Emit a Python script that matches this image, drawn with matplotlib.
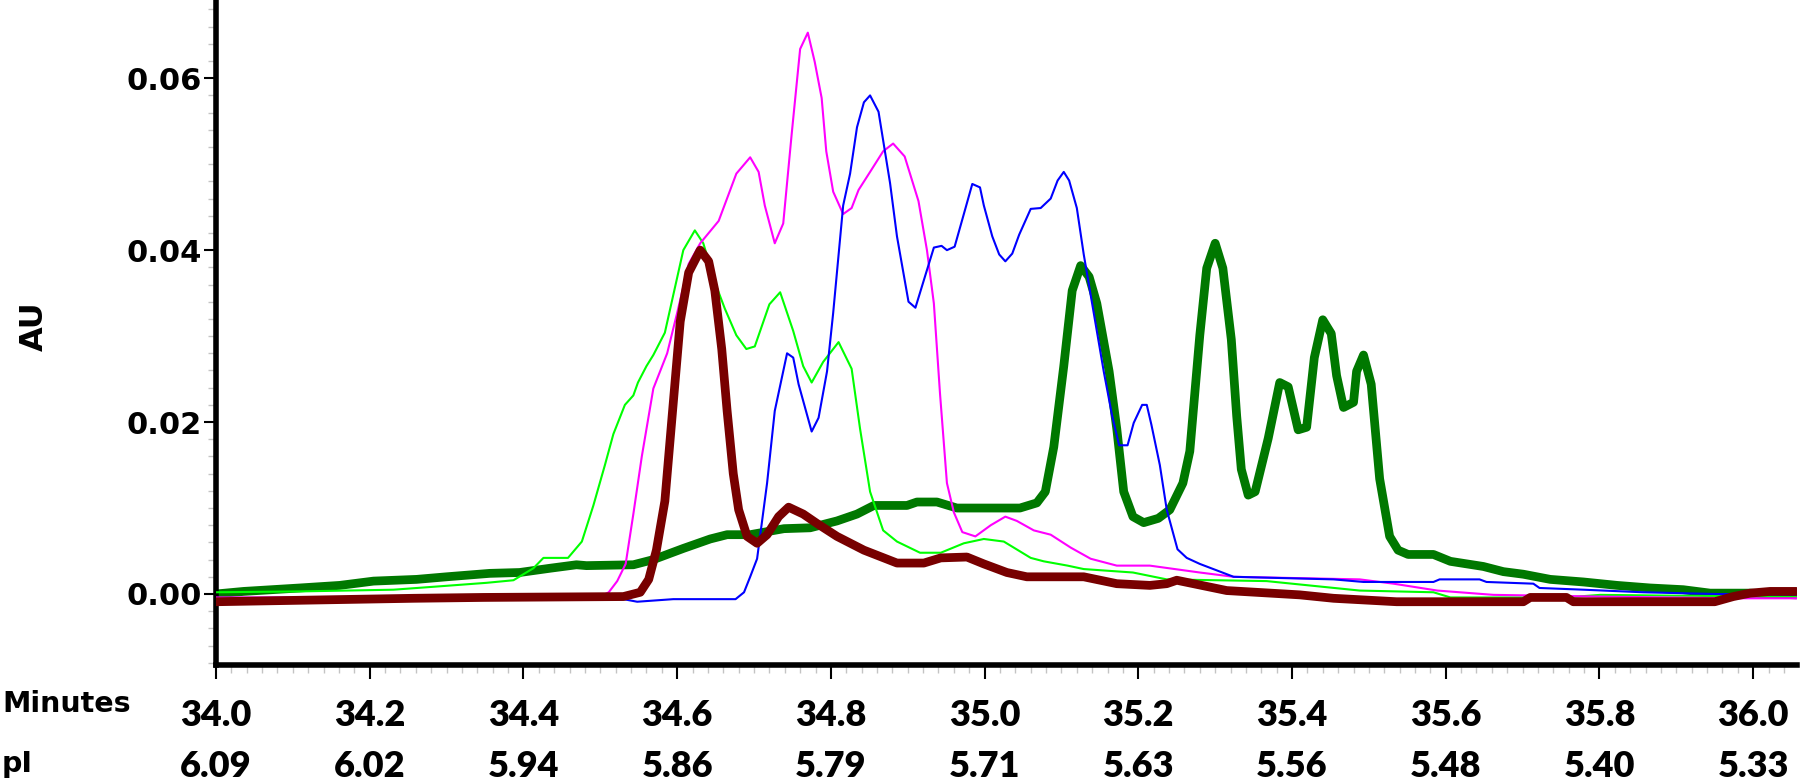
import matplotlib
matplotlib.use('Agg')
import matplotlib.pyplot as plt
from matplotlib.transforms import blended_transform_factory
from matplotlib.ticker import MultipleLocator
import numpy as np

# axis tick labels
minute_ticks = [34.0, 34.2, 34.4, 34.6, 34.8, 35.0, 35.2, 35.4, 35.6, 35.8, 36.0]
pi_labels = ['6.09', '6.02', '5.94', '5.86', '5.79', '5.71', '5.63', '5.56', '5.48', '5.40', '5.33']
au_ticks = [0.00, 0.02, 0.04, 0.06]

# maroon trace (thick)
maroon_t = [34.0, 34.257, 34.348, 34.530, 34.552, 34.563, 34.573, 34.584, 34.595, 34.604,
            34.615, 34.630, 34.641, 34.649, 34.658, 34.665, 34.673, 34.680, 34.691, 34.704,
            34.717, 34.732, 34.745, 34.764, 34.782, 34.808, 34.843, 34.886, 34.921, 34.943,
            34.977, 34.999, 35.029, 35.055, 35.129, 35.172, 35.215, 35.237, 35.250, 35.315,
            35.410, 35.454, 35.536, 35.701, 35.710, 35.757, 35.766, 35.950, 35.974, 35.996,
            36.022, 36.056]
maroon_au = [-0.0009, -0.0005, -0.0004, -0.0003, 0.0002, 0.0017, 0.0051, 0.0108, 0.0223, 0.0317,
             0.0374, 0.0400, 0.0387, 0.0353, 0.0285, 0.0213, 0.0140, 0.0098, 0.0067, 0.0059,
             0.0069, 0.0090, 0.0101, 0.0093, 0.0082, 0.0067, 0.0051, 0.0036, 0.0036, 0.0042,
             0.0043, 0.0035, 0.0025, 0.0020, 0.0020, 0.0012, 0.0010, 0.0012, 0.0016, 0.0004,
             -0.0001, -0.0005, -0.0009, -0.0009, -0.0004, -0.0004, -0.0009, -0.0009, -0.0003, 0.0001,
             0.0003, 0.0003]

# dark green trace (thick)
dkgreen_t = [34.0, 34.036, 34.109, 34.161, 34.205, 34.261, 34.300, 34.356, 34.395, 34.435,
             34.469, 34.482, 34.543, 34.569, 34.608, 34.643, 34.665, 34.695, 34.739, 34.773,
             34.808, 34.834, 34.856, 34.899, 34.912, 34.938, 34.964, 35.046, 35.068, 35.079,
             35.090, 35.103, 35.114, 35.125, 35.136, 35.146, 35.162, 35.172, 35.181, 35.193,
             35.207, 35.226, 35.241, 35.258, 35.267, 35.280, 35.289, 35.300, 35.310, 35.321,
             35.328, 35.334, 35.343, 35.352, 35.369, 35.384, 35.395, 35.408, 35.419, 35.429,
             35.440, 35.451, 35.458, 35.467, 35.480, 35.484, 35.493, 35.503, 35.514, 35.527,
             35.538, 35.551, 35.584, 35.606, 35.649, 35.675, 35.701, 35.736, 35.779, 35.823,
             35.866, 35.909, 35.944, 35.996, 36.056]
dkgreen_au = [0.0000, 0.0003, 0.0007, 0.0010, 0.0015, 0.0017, 0.0020, 0.0024, 0.0025, 0.0030,
              0.0034, 0.0033, 0.0034, 0.0040, 0.0053, 0.0064, 0.0069, 0.0069, 0.0076, 0.0077,
              0.0085, 0.0093, 0.0103, 0.0103, 0.0107, 0.0107, 0.0100, 0.0100, 0.0106, 0.0119,
              0.0171, 0.0265, 0.0353, 0.0382, 0.0369, 0.0338, 0.0259, 0.0192, 0.0119, 0.0090,
              0.0083, 0.0088, 0.0098, 0.0129, 0.0166, 0.0301, 0.0379, 0.0408, 0.0379, 0.0296,
              0.0207, 0.0145, 0.0115, 0.0119, 0.0181, 0.0246, 0.0241, 0.0191, 0.0194, 0.0275,
              0.0319, 0.0303, 0.0254, 0.0217, 0.0223, 0.0259, 0.0278, 0.0244, 0.0134, 0.0067,
              0.0051, 0.0046, 0.0046, 0.0038, 0.0032, 0.0026, 0.0023, 0.0017, 0.0014, 0.0010,
              0.0007, 0.0005, 0.0001, 0.0001, -0.0001]

# light green trace
lime_t = [34.0, 34.109, 34.231, 34.292, 34.352, 34.387, 34.413, 34.426, 34.458, 34.476,
          34.491, 34.506, 34.517, 34.532, 34.543, 34.549, 34.560, 34.569, 34.584, 34.595,
          34.608, 34.623, 34.634, 34.651, 34.662, 34.677, 34.690, 34.701, 34.720, 34.734,
          34.751, 34.764, 34.775, 34.790, 34.810, 34.827, 34.838, 34.851, 34.868, 34.886,
          34.916, 34.943, 34.973, 34.999, 35.025, 35.060, 35.077, 35.108, 35.129, 35.193,
          35.237, 35.367, 35.488, 35.584, 35.606, 35.757, 35.801, 35.900, 36.056]
lime_au = [0.0002, 0.0003, 0.0005, 0.0009, 0.0013, 0.0016, 0.0030, 0.0042, 0.0042, 0.0061,
           0.0103, 0.0150, 0.0186, 0.0220, 0.0231, 0.0246, 0.0265, 0.0278, 0.0304, 0.0348,
           0.0400, 0.0423, 0.0408, 0.0358, 0.0332, 0.0301, 0.0285, 0.0288, 0.0337, 0.0351,
           0.0306, 0.0265, 0.0246, 0.0270, 0.0293, 0.0262, 0.0192, 0.0119, 0.0074, 0.0061,
           0.0048, 0.0048, 0.0059, 0.0064, 0.0061, 0.0042, 0.0038, 0.0033, 0.0029, 0.0025,
           0.0017, 0.0015, 0.0004, 0.0002, -0.0004, -0.0004, -0.0001, -0.0002, -0.0003]

# magenta trace
pink_t = [34.0, 34.500, 34.511, 34.522, 34.533, 34.543, 34.554, 34.569, 34.587, 34.600,
          34.615, 34.630, 34.654, 34.677, 34.695, 34.706, 34.714, 34.727, 34.738, 34.749,
          34.760, 34.770, 34.779, 34.788, 34.794, 34.803, 34.816, 34.827, 34.836, 34.851,
          34.868, 34.881, 34.896, 34.914, 34.925, 34.934, 34.942, 34.951, 34.960, 34.971,
          34.988, 35.008, 35.027, 35.042, 35.064, 35.086, 35.112, 35.138, 35.172, 35.215,
          35.280, 35.324, 35.488, 35.532, 35.589, 35.662, 35.800, 35.980, 36.056]
pink_au = [-0.0004, -0.0003, 0.0002, 0.0015, 0.0035, 0.0093, 0.0160, 0.0239, 0.0280, 0.0327,
           0.0384, 0.0408, 0.0434, 0.0489, 0.0508, 0.0491, 0.0452, 0.0408, 0.0431, 0.0535,
           0.0634, 0.0653, 0.0619, 0.0577, 0.0515, 0.0468, 0.0442, 0.0449, 0.0470, 0.0491,
           0.0515, 0.0524, 0.0509, 0.0457, 0.0400, 0.0338, 0.0233, 0.0129, 0.0095, 0.0072,
           0.0067, 0.0080, 0.0090, 0.0085, 0.0074, 0.0069, 0.0054, 0.0041, 0.0033, 0.0033,
           0.0025, 0.0020, 0.0017, 0.0012, 0.0004, -0.0001, -0.0003, -0.0005, -0.0005]

# blue trace
blue_t = [34.0, 34.530, 34.548, 34.595, 34.676, 34.687, 34.695, 34.704, 34.717, 34.727,
          34.743, 34.751, 34.758, 34.775, 34.784, 34.795, 34.803, 34.816, 34.825, 34.834,
          34.843, 34.851, 34.862, 34.877, 34.886, 34.901, 34.910, 34.923, 34.934, 34.944,
          34.951, 34.961, 34.973, 34.984, 34.994, 34.999, 35.010, 35.019, 35.027, 35.036,
          35.045, 35.060, 35.073, 35.086, 35.095, 35.103, 35.110, 35.120, 35.129, 35.142,
          35.155, 35.166, 35.175, 35.186, 35.194, 35.205, 35.211, 35.217, 35.228, 35.237,
          35.251, 35.263, 35.280, 35.324, 35.454, 35.493, 35.584, 35.592, 35.644, 35.653,
          35.714, 35.722, 35.779, 35.857, 35.950, 36.056]
blue_au = [-0.0006, -0.0006, -0.0009, -0.0006, -0.0006, 0.0002, 0.0020, 0.0041, 0.0129, 0.0213,
           0.0280, 0.0275, 0.0244, 0.0189, 0.0205, 0.0259, 0.0327, 0.0452, 0.0489, 0.0543,
           0.0572, 0.0580, 0.0561, 0.0478, 0.0416, 0.0340, 0.0333, 0.0371, 0.0403, 0.0405,
           0.0400, 0.0404, 0.0442, 0.0477, 0.0473, 0.0452, 0.0416, 0.0395, 0.0387, 0.0396,
           0.0418, 0.0448, 0.0449, 0.0460, 0.0481, 0.0491, 0.0481, 0.0449, 0.0395, 0.0327,
           0.0259, 0.0207, 0.0173, 0.0173, 0.0199, 0.0220, 0.0220, 0.0197, 0.0150, 0.0098,
           0.0052, 0.0042, 0.0035, 0.0020, 0.0017, 0.0014, 0.0014, 0.0017, 0.0017, 0.0014,
           0.0012, 0.0007, 0.0005, 0.0002, 0.0000, -0.0001]

W, H = 1800, 782
fig = plt.figure(figsize=(W / 100, H / 100), dpi=100)
ax = fig.add_axes([216 / W, (H - 665) / H, (1797 - 216) / W, 665 / H])

thick = dict(lw=6.3, solid_joinstyle='round', solid_capstyle='round')
ax.plot(dkgreen_t, dkgreen_au, color='#007800', zorder=2, **thick)
ax.plot(lime_t, lime_au, color='#00ff00', lw=1.5, zorder=3)
ax.plot(pink_t, pink_au, color='#ff00ff', lw=1.5, zorder=4)
ax.plot(blue_t, blue_au, color='#0000ff', lw=1.5, zorder=5)
ax.plot(maroon_t, maroon_au, color='#780000', zorder=6, **thick)

ax.set_xlim(34.0, 36.057)
ax.set_ylim(-0.00826, 0.0691)

for side in ['top', 'right']:
    ax.spines[side].set_visible(False)
for side in ['left', 'bottom']:
    ax.spines[side].set_linewidth(4)
    ax.spines[side].set_color('black')

ax.set_xticks(minute_ticks)
ax.xaxis.set_minor_locator(MultipleLocator(0.02))
ax.set_yticks(au_ticks)
ax.yaxis.set_minor_locator(MultipleLocator(0.002))
ax.tick_params(axis='both', which='major', direction='out', color='black', width=1.5)
ax.tick_params(axis='x', which='major', length=10, labelbottom=False)
ax.tick_params(axis='y', which='major', length=8.5, pad=1.5)
ax.tick_params(axis='both', which='minor', direction='out', color='#c4c4c4', width=1, length=5.5)
ax.set_yticklabels([f'{v:.2f}' for v in au_ticks], fontfamily='DejaVu Sans',
                   fontweight='bold', fontsize=22)

# two rows of x labels: minutes and pI
trans = blended_transform_factory(ax.transData, fig.transFigure)
for t, p in zip(minute_ticks, pi_labels):
    ax.text(t, (H - 726) / H, f'{t:.1f}', transform=trans, ha='center', va='baseline',
            fontfamily='Lato', fontweight='heavy', fontsize=26, clip_on=False)
    ax.text(t, (H - 777) / H, p, transform=trans, ha='center', va='baseline',
            fontfamily='Lato', fontweight='heavy', fontsize=26, clip_on=False)

fig.text(2 / W, (H - 712) / H, 'Minutes', ha='left', va='baseline',
         fontfamily='DejaVu Sans', fontweight='bold', fontsize=20.5)
fig.text(2 / W, (H - 772) / H, 'pI', ha='left', va='baseline',
         fontfamily='DejaVu Sans', fontweight='bold', fontsize=20.5)
fig.text(34 / W, (H - 326) / H, 'AU', ha='center', va='center', rotation=90,
         fontfamily='DejaVu Sans', fontweight='bold', fontsize=23)

fig.savefig('out.png', dpi=100)
plt.close(fig)
